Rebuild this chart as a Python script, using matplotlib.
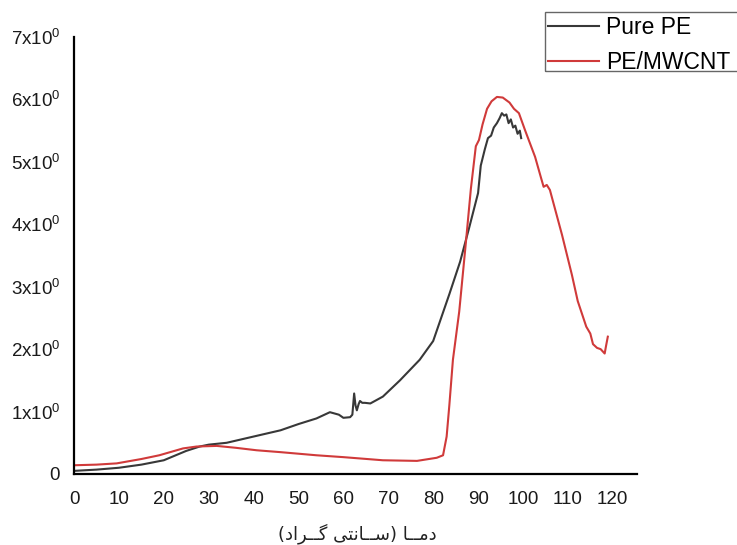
import matplotlib
matplotlib.use('Agg')
import matplotlib.pyplot as plt
from matplotlib.ticker import FuncFormatter
from matplotlib.patches import Rectangle

plt.rcParams['font.family'] = ['Liberation Sans', 'DejaVu Sans']
plt.rcParams['mathtext.default'] = 'regular'

# Pure PE
pe_x = [0, 5, 10, 15, 20, 25, 28, 30, 34, 40, 46, 50, 54, 57, 59, 60, 61.5, 62,
        62.4, 62.7, 63, 63.4, 63.7, 64.2, 64.8, 66, 68.8, 72.6, 77, 80, 83.6, 86,
        88, 90, 90.6, 91.5, 92.2, 92.9, 93.5, 94.2, 94.8, 95.3, 95.8, 96.3, 96.8,
        97.3, 97.8, 98.3, 98.8, 99.3, 99.6]
pe_y = [0.05, 0.07, 0.1, 0.15, 0.22, 0.37, 0.44, 0.47, 0.5, 0.6, 0.7, 0.8, 0.89,
        0.99, 0.95, 0.9, 0.91, 0.95, 1.29, 1.1, 1.02, 1.12, 1.17, 1.14, 1.14, 1.13,
        1.24, 1.5, 1.83, 2.13, 2.88, 3.4, 3.94, 4.5, 4.94, 5.2, 5.38, 5.42, 5.55,
        5.62, 5.7, 5.78, 5.74, 5.76, 5.62, 5.68, 5.55, 5.58, 5.45, 5.5, 5.38]

# PE/MWCNT
cnt_x = [0, 5, 9.5, 15, 19, 24.3, 27.3, 31.8, 36, 40.7, 46, 54, 60, 68.8, 76.4,
         80.8, 82.2, 83, 83.6, 84.4, 85.8, 87.3, 88.4, 89.5, 90.2, 91, 92, 93, 94.2,
         95.5, 97, 98, 99.1, 100.5, 102.7, 104, 104.6, 105.3, 106, 108.7, 110.9,
         112.2, 114.1, 115, 115.6, 116.5, 117.3, 118.2, 118.5, 118.9]
cnt_y = [0.14, 0.15, 0.17, 0.24, 0.3, 0.41, 0.44, 0.45, 0.42, 0.38, 0.35, 0.3, 0.27,
         0.22, 0.21, 0.26, 0.30, 0.6, 1.1, 1.83, 2.6, 3.72, 4.57, 5.25, 5.35, 5.6,
         5.85, 5.97, 6.04, 6.03, 5.95, 5.85, 5.78, 5.5, 5.08, 4.75, 4.6, 4.63, 4.55,
         3.83, 3.19, 2.77, 2.36, 2.25, 2.08, 2.02, 2.0, 1.93, 2.05, 2.2]

x_ticks = list(range(0, 121, 10))
y_ticks = list(range(0, 8))

# "دما (سانتی گراد)" as shaped glyphs, laid out right to left
word_dama = '\uFE8E\u0640\u0640\uFEE3\uFEA9'
word_santi = '\uFBFD\uFE98\uFEE7\uFE8E\u0640\u0640\uFEB3'
word_grad = '\uFEA9\uFE8D\uFEAE\u0640\u0640\uFB94'
xlabel = '(' + word_grad + ' ' + word_santi + ') ' + word_dama

fig = plt.figure(figsize=(7.37, 5.45), dpi=100)
ax = fig.add_axes([74 / 737, 1 - 474 / 545, (637 - 74) / 737, (474 - 37) / 545])

ax.plot(pe_x, pe_y, color='#383838', lw=1.5, label='Pure PE')
ax.plot(cnt_x, cnt_y, color='#d03a3a', lw=1.5, label='PE/MWCNT')

ax.set_xlim(0, 125.4)
ax.set_ylim(0, 7)
ax.set_xticks(x_ticks)
ax.set_yticks(y_ticks)
ax.yaxis.set_major_formatter(FuncFormatter(
    lambda v, p: '0' if v == 0 else '%dx10$^{0}$' % v))
ax.tick_params(length=0, labelsize=13.5, colors='#1a1a1a')
ax.tick_params(axis='y', pad=10)
ax.tick_params(axis='x', pad=12)

for s in ['top', 'right']:
    ax.spines[s].set_visible(False)
for s in ['left', 'bottom']:
    ax.spines[s].set_linewidth(1.6)
    ax.spines[s].set_color('black')

fig.text(357 / 737, 1 - 534 / 545, xlabel, ha='center', va='center',
         fontsize=13, family=['DejaVu Sans'], color='#222222')

leg = fig.legend(loc='upper left', bbox_to_anchor=(545 / 737, 1 - 13 / 545),
                 fontsize=16.5, frameon=False, handlelength=2.2,
                 handletextpad=0.3, labelspacing=0.5, borderpad=0.15,
                 borderaxespad=0)
# legend frame runs off the right edge of the picture
fig.add_artist(Rectangle((545 / 737, 1 - 71 / 545), 0.3, 59 / 545,
                         transform=fig.transFigure, fill=False,
                         edgecolor='#666666', lw=1.0))

fig.savefig('out.png', dpi=100)
